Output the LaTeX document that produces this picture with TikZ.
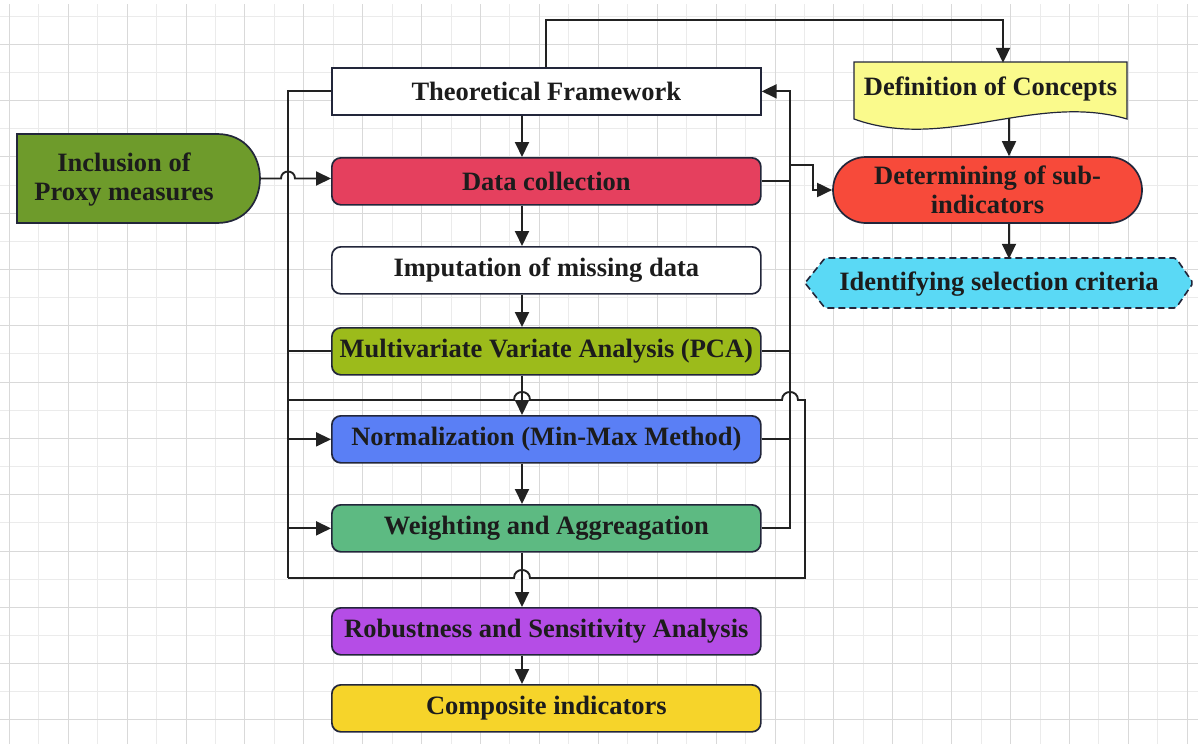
\documentclass[tikz,border=0pt]{standalone}
\usepackage{fontspec}
\setmainfont{Liberation Serif}
\usetikzlibrary{arrows.meta,calc}
\pgfdeclarelayer{gridlayer}
\pgfdeclarelayer{bglayer}
\pgfsetlayers{gridlayer,bglayer,main}
\definecolor{bordc}{HTML}{22263A}
\definecolor{linec}{HTML}{222222}
\definecolor{txt}{HTML}{1C1C1C}
\definecolor{inclG}{HTML}{6E9B2B}
\definecolor{dcR}{HTML}{E5405E}
\definecolor{mvaG}{HTML}{9CBB1B}
\definecolor{normB}{HTML}{5A7FF5}
\definecolor{wtG}{HTML}{5DBA82}
\definecolor{robP}{HTML}{B54DE6}
\definecolor{compY}{HTML}{F6D42A}
\definecolor{defY}{HTML}{FAFA8C}
\definecolor{detR}{HTML}{F74A3A}
\definecolor{idC}{HTML}{5AD9F5}
\definecolor{gridMaj}{HTML}{D9D9D9}
\definecolor{gridMin}{HTML}{EBEBEB}
\begin{document}
\begin{tikzpicture}[x=1pt,y=-1pt,
  font=\fontsize{26.5}{29}\selectfont\bfseries,
  box/.style={draw=bordc, line width=1.7pt, rounded corners=9pt, minimum width=429pt, minimum height=47pt, inner sep=0pt, text=txt, anchor=north west},
  holder/.style={inner sep=0pt, text=txt, align=center},
  shp/.style={draw=bordc, line width=1.7pt},
  conn/.style={line width=1.9pt, draw=linec},
  arr/.style={conn, -{Triangle[length=15pt,width=14pt]}},
]
\useasboundingbox (0,0) rectangle (1198,744);
\begin{pgfonlayer}{gridlayer}
  \fill[white] (0,0) rectangle (1198,744);
  \foreach \i in {0,...,19} {\draw[gridMin, line width=1pt] ({38.75+58.9*\i},4) -- ({38.75+58.9*\i},744);}
  \foreach \j in {0,...,12} {\draw[gridMin, line width=1pt] (0,{16.15+56.3*\j}) -- (1198,{16.15+56.3*\j});}
  \foreach \i in {0,...,20} {\draw[gridMaj, line width=1pt] ({9.3+58.9*\i},4) -- ({9.3+58.9*\i},744);}
  \foreach \j in {0,...,12} {\draw[gridMaj, line width=1pt] (0,{44.3+56.3*\j}) -- (1198,{44.3+56.3*\j});}
\end{pgfonlayer}

% main column
\node[box, sharp corners, fill=white] (tf) at (331,67) {Theoretical Framework};
\node[box, fill=dcR] (dc) at (331,157) {Data collection};
\node[box, fill=white] (imp) at (331,246) {Imputation of missing data};
\node[box, fill=mvaG] (mva) at (331,327) {Multivariate Variate Analysis (PCA)};
\node[box, fill=normB] (norm) at (331,415) {Normalization (Min-Max Method)};
\node[box, fill=wtG] (wt) at (331,504) {Weighting and Aggreagation};
\node[box, fill=robP] (rob) at (331,607) {Robustness and Sensitivity Analysis};
\node[box, fill=compY] (comp) at (331,684) {Composite indicators};

% left delay shape
\node[minimum width=243pt, minimum height=89pt, inner sep=0pt] (incl) at (138.5,178.5) {};
\node[holder] (inclT) at (124,180) {Inclusion of\\Proxy measures};
\begin{pgfonlayer}{bglayer}
  \draw[shp, fill=inclG] (17,134) -- (217,134) .. controls (274.3,134) and (274.3,223) .. (217,223) -- (17,223) -- cycle;
\end{pgfonlayer}

% right side shapes
\node[holder, minimum width=273pt, minimum height=52pt] (def) at (990.5,89) {Definition of Concepts};
\begin{pgfonlayer}{bglayer}
  \draw[shp, line width=1.2pt, fill=defY] (854,62) -- (1127,62) -- (1127,119) .. controls (1036,92) and (945,152) .. (854,119) -- cycle;
\end{pgfonlayer}
\node[draw=bordc, line width=1.7pt, fill=detR, rounded corners=33pt, minimum width=309pt, minimum height=66pt, inner sep=0pt, text=txt, align=center] (det) at (987.5,190) {Determining of sub-\\indicators};
\node[holder, minimum width=388pt, minimum height=50pt] (idc) at (999,284) {Identifying selection criteria};
\begin{pgfonlayer}{bglayer}
  \draw[draw=bordc, line width=1.6pt, dash pattern=on 7pt off 4pt, fill=idC, rounded corners=2pt] (805,283) -- (825,258) -- (1176,258) -- (1193,283) -- (1176,308) -- (825,308) -- cycle;
\end{pgfonlayer}

% helper coordinates
\coordinate (ax) at (522,0);
\coordinate (lx) at (288,0);
\coordinate (rx) at (790,0);
\coordinate (rrx) at (805,0);
\coordinate (ly1) at (0,400);
\coordinate (ly2) at (0,578);
\coordinate (topy) at (0,20);
\coordinate (dx) at (1009,0);

% main vertical arrows
\draw[arr] (tf.south -| ax) -- (dc.north -| ax);
\draw[arr] (dc.south -| ax) -- (imp.north -| ax);
\draw[arr] (imp.south -| ax) -- (mva.north -| ax);
\draw[arr] (mva.south -| ax) -- (norm.north -| ax);
\draw[arr] (norm.south -| ax) -- (wt.north -| ax);
\draw[arr] (wt.south -| ax) -- (rob.north -| ax);
\draw[arr] (rob.south -| ax) -- (comp.north -| ax);

% top connector
\draw[arr] (tf.north) -- (tf.north |- topy) -| ($(def.north -| dx)+(-6,0)$);

% left bus
\draw[conn] (tf.west) -- (tf.west -| lx) -- (lx |- ly2);
\draw[conn] (mva.west) -- (mva.west -| lx);
\draw[arr] (norm.west -| lx) -- (norm.west);
\draw[arr] (wt.west -| lx) -- (wt.west);

% loop with jumps
\draw[conn] (lx |- ly1) -- ($(ax |- ly1)+(-8,0)$) .. controls +(0,-10.7) and +(0,-10.7) .. ($(ax |- ly1)+(8,0)$)
  -- ($(rx |- ly1)+(-8,0)$) .. controls +(0,-10.7) and +(0,-10.7) .. ($(rx |- ly1)+(8,0)$)
  -- (rrx |- ly1) -- (rrx |- ly2)
  -- ($(ax |- ly2)+(8,0)$) .. controls +(0,-10.7) and +(0,-10.7) .. ($(ax |- ly2)+(-8,0)$)
  -- (lx |- ly2);

% inclusion to data collection with jump
\draw[arr] (incl.east) -- ($(lx |- incl.east)+(-7,0)$) .. controls +(0,-9.3) and +(0,-9.3) .. ($(lx |- incl.east)+(7,0)$) -- (dc.west |- incl.east);

% right bus
\draw[arr] (wt.east) -- (wt.east -| rx) -- (rx |- tf.east) -- (tf.east);
\draw[conn] (mva.east) -- (mva.east -| rx);
\draw[conn] (norm.east) -- (norm.east -| rx);
\draw[arr] (dc.east) -- (dc.east -| rx) -- ++(0,-16) -- ++(23,0) |- (det.west);

% right column arrows
\draw[arr] ($(def.south -| dx)+(0,3)$) -- (det.north -| dx);
\draw[arr] (det.south -| dx) -- (idc.north -| dx);
\end{tikzpicture}
\end{document}
